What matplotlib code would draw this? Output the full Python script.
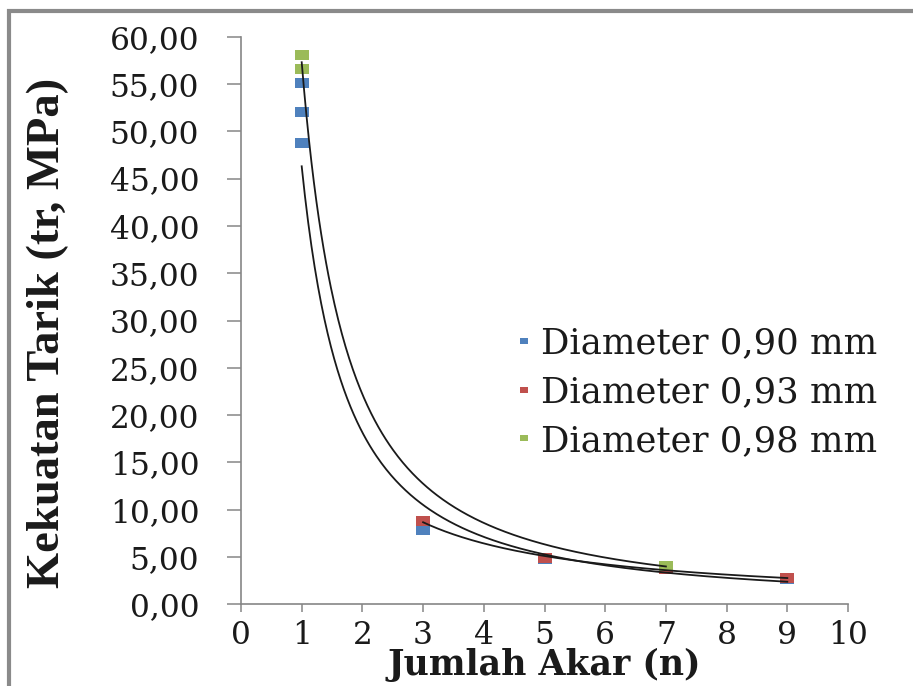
import numpy as np
import matplotlib
matplotlib.use("Agg")
import matplotlib.pyplot as plt
from matplotlib.lines import Line2D
from matplotlib.patches import Rectangle
from matplotlib.ticker import FuncFormatter

# ---- data ----
series_names = ["Diameter 0,90 mm", "Diameter 0,93 mm", "Diameter 0,98 mm"]
series_colors = ["#4F81BD", "#C0504D", "#9BBB59"]

x_090 = [1, 1, 1, 3, 5, 7, 9]
y_090 = [55.1, 52.0, 48.8, 7.9, 4.8, 3.7, 2.7]

x_093 = [3, 5, 7, 9]
y_093 = [8.8, 4.9, 3.75, 2.75]

x_098 = [1, 1, 7]
y_098 = [58.1, 56.6, 4.0]

# power trend lines y = a * x^b
trend_a = [46.3, 27.1, 57.3]
trend_b = [-1.35, -1.037, -1.368]
trend_xmin = [1, 3, 1]
trend_xmax = [9, 9, 7]

x_ticks = list(range(0, 11))
y_ticks = list(range(0, 61, 5))

xs_all = [x_090, x_093, x_098]
ys_all = [y_090, y_093, y_098]

# ---- figure ----
W, H = 913, 686
fig = plt.figure(figsize=(W / 100, H / 100), dpi=100)
ax = fig.add_axes([241 / W, 1 - 604.3 / H, (848 - 241) / W, (604.3 - 36.7) / H])

serif = "DejaVu Serif"
rect_marker = [(-1.5, -1), (1.5, -1), (1.5, 1), (-1.5, 1), (-1.5, -1)]

for xs, ys, c in zip(xs_all, ys_all, series_colors):
    ax.plot(xs, ys, linestyle="none", marker=rect_marker, markersize=10,
            markerfacecolor=c, markeredgewidth=0, zorder=3, clip_on=False)

for a, b, x0, x1 in zip(trend_a, trend_b, trend_xmin, trend_xmax):
    xx = np.linspace(x0, x1, 300)
    ax.plot(xx, a * xx ** b, color="#1a1a1a", linewidth=1.3, zorder=4)

ax.set_xlim(0, 10)
ax.set_ylim(0, 60)
ax.set_xticks(x_ticks)
ax.set_yticks(y_ticks)
ax.yaxis.set_major_formatter(FuncFormatter(lambda v, p: f"{v:.2f}".replace(".", ",")))

for s in ["top", "right"]:
    ax.spines[s].set_visible(False)
for s in ["left", "bottom"]:
    ax.spines[s].set_color("#868686")
    ax.spines[s].set_linewidth(1.2)

ax.tick_params(axis="y", direction="out", length=10, width=1.1, color="#868686",
               pad=20, labelsize=22.5)
ax.tick_params(axis="x", direction="out", length=6, width=1.1, color="#868686",
               pad=5, labelsize=22.5)
for lab in ax.get_xticklabels() + ax.get_yticklabels():
    lab.set_fontfamily(serif)
    lab.set_color("#1a1a1a")

ax.set_xlabel("Jumlah Akar (n)", fontfamily=serif, fontweight="bold", fontsize=25,
              color="#1a1a1a", va="center")
ax.xaxis.set_label_coords(0.5, -0.107)
ax.set_ylabel("Kekuatan Tarik (tr, MPa)", fontfamily="Liberation Serif",
              fontweight="bold", fontsize=33.5, color="#1a1a1a", va="center")
ax.yaxis.set_label_coords(-0.318, 0.478)

handles = [Line2D([], [], linestyle="none", marker=rect_marker, markersize=6,
                  markerfacecolor=c, markeredgewidth=0) for c in series_colors]
leg = fig.legend(handles, series_names, loc="center left",
                 bbox_to_anchor=(513 / W, 1 - 392 / H), frameon=False,
                 prop={"family": serif, "size": 25.5}, handlelength=0.6,
                 handletextpad=0.2, labelspacing=0.42, borderpad=0,
                 borderaxespad=0)
for t in leg.get_texts():
    t.set_color("#1a1a1a")

# outer frame (gray border, cut off at right and bottom)
fig.patches.append(Rectangle((9 / W, -0.05), 1.1, 1 - 11 / H + 0.05,
                             transform=fig.transFigure, fill=False,
                             edgecolor="#8a8a8a", linewidth=3, clip_on=False))

fig.savefig("out.png", dpi=100)
